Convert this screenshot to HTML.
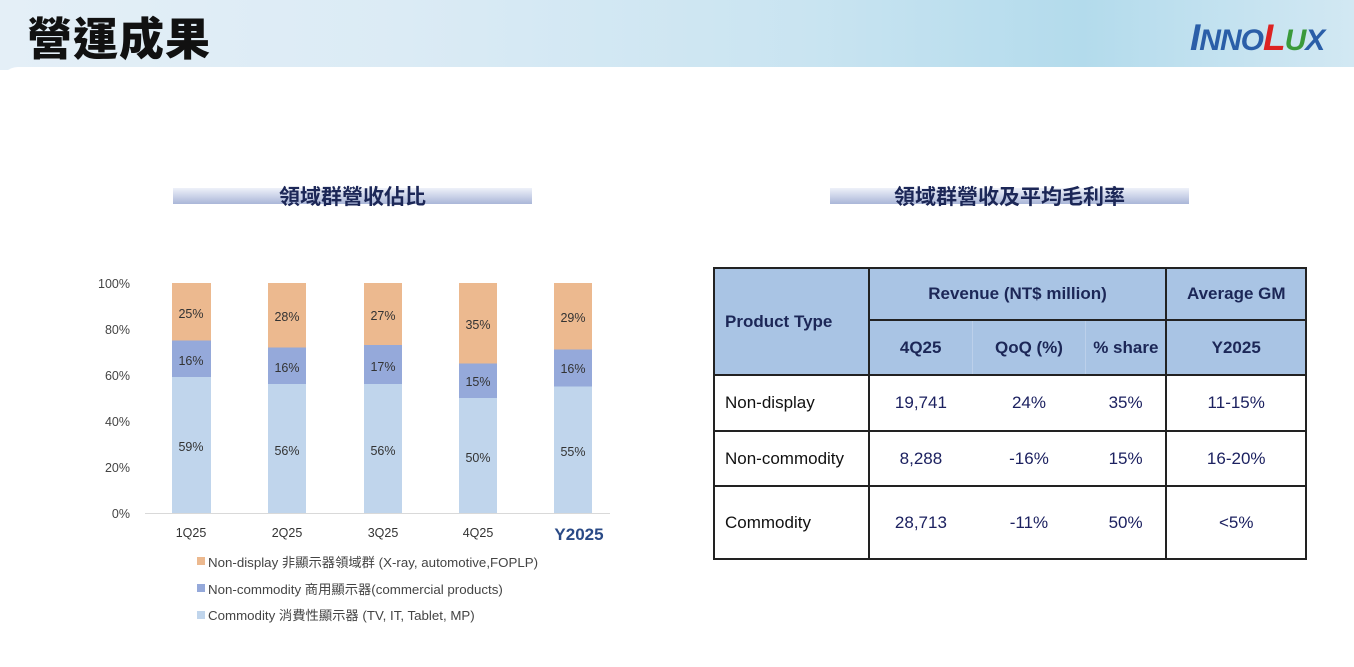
<!DOCTYPE html>
<html><head><meta charset="utf-8">
<style>
*{margin:0;padding:0;box-sizing:border-box}
body{width:1354px;height:652px;overflow:hidden;background:#fff;font-family:"Liberation Sans","Noto Sans CJK TC",sans-serif;position:relative}
.hdr{position:absolute;left:0;top:0;width:1354px;height:70px;background:linear-gradient(90deg,#e4eff7 0%,#dbebf5 30%,#c9e4f1 60%,#b3dbec 80%,#d2e8f3 100%)}
.white{position:absolute;left:0;top:67px;width:1354px;height:600px;background:#fff;border-top-left-radius:18px}
.title{position:absolute;left:27px;top:6px;font-size:45px;font-weight:900;color:#111;font-family:"Noto Sans CJK TC",sans-serif;letter-spacing:1px;line-height:60px}
.logo{position:absolute;left:1190px;top:16px;font-size:37px;font-weight:bold;font-style:italic;color:#2a5ea8;line-height:44px;letter-spacing:-1px}
.logo small{font-size:30px}
.ban{position:absolute;height:16px;background:linear-gradient(180deg,#eef1f9,#aab6d8);}
.bt{position:absolute;font-family:"Noto Sans CJK TC",sans-serif;font-weight:bold;font-size:21px;color:#1c2757;text-align:center;line-height:26px}
table{position:absolute;left:713px;top:267px;width:594px;border-collapse:collapse;font-family:"Liberation Sans",sans-serif}
td{border:2px solid #222;font-size:17px;color:#1c2160;text-align:center}
.h td{background:#a9c4e4;font-weight:bold;color:#1c2757}
</style></head><body>
<div class="hdr"></div>
<div class="white"></div>
<div class="title">營運成果</div>
<div class="logo">I<small>NNO</small><span style="color:#d22">L</span><small style="color:#3a9a3a">U</small><small>X</small></div>

<div class="ban" style="left:173px;top:188px;width:359px"></div>
<div class="bt" style="left:173px;top:183px;width:359px">領域群營收佔比</div>
<div class="ban" style="left:830px;top:188px;width:359px"></div>
<div class="bt" style="left:830px;top:183px;width:359px">領域群營收及平均毛利率</div>

<svg style="position:absolute;left:0;top:0" width="700" height="652">
<line x1="145" y1="513.5" x2="610" y2="513.5" stroke="#d9d9d9"/>
<g font-family="Liberation Sans" font-size="12.5" fill="#444" text-anchor="end">
<text x="130" y="288">100%</text><text x="130" y="334">80%</text><text x="130" y="380">60%</text><text x="130" y="426">40%</text><text x="130" y="472">20%</text><text x="130" y="518">0%</text>
</g>
<g>
<rect x="172" y="377" width="39" height="136" fill="#c0d5ec"/><rect x="172" y="340.5" width="39" height="36.5" fill="#95a9da"/><rect x="172" y="283" width="39" height="57.5" fill="#ecb98f"/>
<rect x="268" y="384" width="38" height="129" fill="#c0d5ec"/><rect x="268" y="347.5" width="38" height="36.5" fill="#95a9da"/><rect x="268" y="283" width="38" height="64.5" fill="#ecb98f"/>
<rect x="364" y="384" width="38" height="129" fill="#c0d5ec"/><rect x="364" y="345" width="38" height="39" fill="#95a9da"/><rect x="364" y="283" width="38" height="62" fill="#ecb98f"/>
<rect x="459" y="398" width="38" height="115" fill="#c0d5ec"/><rect x="459" y="363.5" width="38" height="34.5" fill="#95a9da"/><rect x="459" y="283" width="38" height="80.5" fill="#ecb98f"/>
<rect x="554" y="386.5" width="38" height="126.5" fill="#c0d5ec"/><rect x="554" y="349.5" width="38" height="37" fill="#95a9da"/><rect x="554" y="283" width="38" height="66.5" fill="#ecb98f"/>
</g>
<g font-family="Liberation Sans" font-size="12.5" fill="#333" text-anchor="middle">
<text x="191" y="318">25%</text><text x="191" y="365">16%</text><text x="191" y="451">59%</text>
<text x="287" y="321">28%</text><text x="287" y="372">16%</text><text x="287" y="455">56%</text>
<text x="383" y="320">27%</text><text x="383" y="371">17%</text><text x="383" y="455">56%</text>
<text x="478" y="329">35%</text><text x="478" y="386">15%</text><text x="478" y="462">50%</text>
<text x="573" y="322">29%</text><text x="573" y="373">16%</text><text x="573" y="456">55%</text>
<text x="191" y="537">1Q25</text><text x="287" y="537">2Q25</text><text x="383" y="537">3Q25</text><text x="478" y="537">4Q25</text>
<text x="579" y="540" font-size="17" font-weight="bold" fill="#2a4a86">Y2025</text>
</g>
<g font-family="Liberation Sans,Noto Sans CJK TC" font-size="13.3" fill="#444">
<rect x="197" y="557" width="8" height="8" fill="#ecb98f"/><text x="208" y="567">Non-display 非顯示器領域群 (X-ray, automotive,FOPLP)</text>
<rect x="197" y="584" width="8" height="8" fill="#95a9da"/><text x="208" y="594">Non-commodity 商用顯示器(commercial products)</text>
<rect x="197" y="611" width="8" height="8" fill="#c0d5ec"/><text x="208" y="620">Commodity 消費性顯示器 (TV, IT, Tablet, MP)</text>
</g>
</svg>

<table>
<tr class="h" style="height:52px"><td rowspan="2" style="text-align:left;padding-left:10px;width:155px">Product Type</td><td colspan="3">Revenue (NT$ million)</td><td style="width:140px">Average GM</td></tr>
<tr class="h" style="height:55px"><td style="width:104px;border-right:1px solid #bcd0ea">4Q25</td><td style="width:114px;border-left:none;border-right:1px solid #bcd0ea">QoQ (%)</td><td style="width:81px;border-left:none">% share</td><td>Y2025</td></tr>
<tr style="height:56px"><td style="text-align:left;padding-left:10px;color:#111">Non-display</td><td style="border-right:none">19,741</td><td style="border:2px solid #222;border-left:none;border-right:none">24%</td><td style="border-left:none">35%</td><td>11-15%</td></tr>
<tr style="height:55px"><td style="text-align:left;padding-left:10px;color:#111">Non-commodity</td><td style="border-right:none">8,288</td><td style="border-left:none;border-right:none">-16%</td><td style="border-left:none">15%</td><td>16-20%</td></tr>
<tr style="height:73px"><td style="text-align:left;padding-left:10px;color:#111">Commodity</td><td style="border-right:none">28,713</td><td style="border-left:none;border-right:none">-11%</td><td style="border-left:none">50%</td><td>&lt;5%</td></tr>
</table>
</body></html>
